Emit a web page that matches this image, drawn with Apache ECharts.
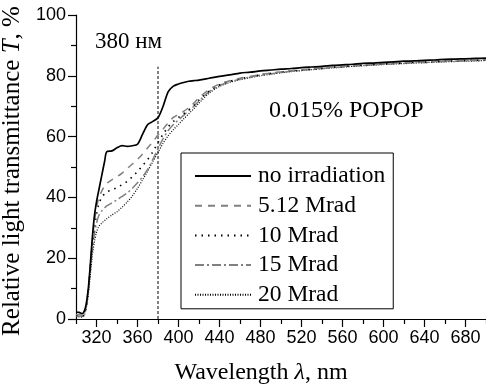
<!DOCTYPE html>
<html>
<head>
<meta charset="utf-8">
<script src="https://cdn.jsdelivr.net/npm/echarts@6/dist/echarts.min.js"></script>
<style>html,body{margin:0;padding:0;background:#fff}#c{width:486px;height:385px}</style>
</head>
<body>
<div id="c"></div>
<script>
const wavelengths = [300,303,306,308,310,312,314,316,318,320,322,325,328,330,335,340,345,350,355,360,365,370,375,380,385,390,395,400,405,410,415,420,430,440,450,460,470,480,490,500,510,520,530,540,550,560,570,580,590,600,610,620,630,640,650,660,670,680,690,700];
const seriesNames = ['no irradiation','5.12 Mrad','10 Mrad','15 Mrad','20 Mrad'];
const noIrradiation = [2.3,2.2,1.8,2.5,5,10,18,27,34,38.5,42,47,52,55,55.3,56.3,57,56.8,57,57.5,60.8,64,65,66.2,70,74.8,76.6,77.3,77.8,78.2,78.4,78.6,79.2,79.8,80.3,80.9,81.2,81.6,81.9,82.2,82.4,82.7,82.9,83.1,83.4,83.6,83.8,84.1,84.2,84.4,84.6,84.8,84.9,85.1,85.2,85.4,85.5,85.6,85.7,85.8];
const mrad512 = [1.5,1.4,1.2,1.8,4.5,10,18,26,32,36.5,39.5,42,43.8,44.6,45.8,46.8,48,49.5,51,52.5,54.3,56.3,58.3,60.5,62.5,64.5,66.3,67.3,68.3,69.5,71,72.8,75.5,77.3,78.4,79.2,79.8,80.4,80.9,81.3,81.7,82.0,82.3,82.6,82.9,83.1,83.4,83.6,83.8,84.0,84.2,84.3,84.5,84.6,84.8,84.9,85.0,85.1,85.2,85.3];
const mrad10 = [1.2,1.1,1.0,1.6,4.2,9.5,17,25,30.5,34.5,37.5,40,41.2,41.8,42.5,43.2,44.2,45.3,46.8,48.5,50.5,52.5,55,58,60.8,63.2,65,66.3,67.5,68.8,70.3,72,75,77,78.2,79.0,79.7,80.3,80.8,81.2,81.6,81.9,82.2,82.5,82.8,83.0,83.3,83.5,83.7,83.9,84.1,84.2,84.4,84.5,84.7,84.8,84.9,85.0,85.1,85.2];
const mrad15 = [1.0,0.9,0.8,1.4,4,9,16,23,28,31.5,33.8,35.5,36.6,37.2,38.2,39.2,40.3,41.5,43,44.8,46.8,49.3,52.5,56,59.3,62,64,65.5,67,68.5,70,71.7,74.8,76.8,78,78.9,79.6,80.2,80.7,81.1,81.5,81.8,82.1,82.4,82.7,82.9,83.2,83.4,83.6,83.8,84.0,84.1,84.3,84.4,84.6,84.7,84.8,84.9,85.0,85.1];
const mrad20 = [0.8,0.7,0.6,1.2,3.5,8,14.5,21,25.5,28.5,30.3,31.5,32.4,33,34.2,35.3,36.8,38.5,40.5,43,45.8,48.7,51.8,54.8,57.8,60.3,62.3,64,65.8,67.5,69.2,71,74.3,76.5,77.8,78.7,79.4,80.0,80.5,81.0,81.4,81.7,82.0,82.3,82.6,82.8,83.1,83.3,83.5,83.7,83.9,84.0,84.2,84.3,84.5,84.6,84.7,84.8,84.9,85.0];
const markerX = [380,380];
const markerY = [0,83];
const xMajorTicks = [320,360,400,440,480,520,560,600,640,680];
const xMinorTicks = [300,340,380,420,460,500,540,580,620,660,700];

const zip = (xs, ys) => xs.map((x, i) => [x, ys[i]]);
const values = [noIrradiation, mrad512, mrad10, mrad15, mrad20];
const styles = [
  {color:'#000', width:1.7, type:'solid'},
  {color:'#808080', width:1.5, type:[7,6]},
  {color:'#000', width:1.6, type:[1.5,5]},
  {color:'#808080', width:1.5, type:[9,3,2,3]},
  {color:'#000', width:1.2, type:[1,1.5]}
];
const serif = 'Liberation Serif';
const sans = 'Liberation Sans';

const series = seriesNames.map((n, i) => ({
  name: n, type: 'line', symbol: 'none', smooth: 0.3,
  data: zip(wavelengths, values[i]),
  lineStyle: styles[i], itemStyle: {color: styles[i].color},
  z: 10 - i, silent: true
}));
series.push({
  name: 'marker', type: 'line', symbol: 'none', data: zip(markerX, markerY),
  lineStyle: {color:'#000', width:1, type:[3,2]}, silent: true, z: 1
});

const chart = echarts.init(document.getElementById('c'), null, {renderer:'canvas'});
chart.setOption({
  animation: false,
  backgroundColor: '#fff',
  grid: {left: 76, right: 0, top: 15, bottom: 66, outerBoundsMode: 'none', containLabel: false},
  xAxis: [{
    type: 'value', min: 300, max: 700,
    axisLine: {show: true, lineStyle: {color:'#000', width:1.2}},
    axisTick: {show: true, length: 8, lineStyle: {color:'#000', width:1.2}, customValues: xMajorTicks},
    axisLabel: {customValues: xMajorTicks, color:'#000', fontFamily: sans, fontSize: 18, margin: 10},
    splitLine: {show: false},
    name: 'Wavelength {i|λ}, nm', nameLocation: 'middle', nameGap: 42,
    nameTextStyle: {color:'#000', fontFamily: serif, fontSize: 24, padding: [0, 40, 0, 0],
      rich: {i: {fontFamily: serif, fontSize: 24, fontStyle: 'italic', color:'#000'}}}
  }, {
    type: 'value', min: 300, max: 700, position: 'bottom',
    axisLine: {show: false},
    axisTick: {show: true, length: 5, lineStyle: {color:'#000', width:1.2}, customValues: xMinorTicks},
    axisLabel: {show: false}, splitLine: {show: false}
  }],
  yAxis: {
    type: 'value', min: 0, max: 100, interval: 20,
    axisLine: {show: true, lineStyle: {color:'#000', width:1.2}},
    axisTick: {show: true, length: 8, lineStyle: {color:'#000', width:1.2}},
    minorTick: {show: true, splitNumber: 2, length: 5, lineStyle: {color:'#000', width:1.2}},
    axisLabel: {color:'#000', fontFamily: sans, fontSize: 18, margin: 10},
    splitLine: {show: false},
    name: 'Relative light transmittance {i|T}, %', nameLocation: 'middle', nameGap: 44,
    nameTextStyle: {color:'#000', fontFamily: serif, fontSize: 25, padding: [0, 8, 0, 0],
      rich: {i: {fontFamily: serif, fontSize: 25, fontStyle: 'italic', color:'#000'}}}
  },
  legend: {
    data: seriesNames, orient: 'vertical', left: 181, top: 153,
    itemWidth: 56, itemHeight: 24, itemGap: 5.7,
    padding: [11, 8, 2, 13],
    borderColor: '#000', borderWidth: 1, backgroundColor: '#fff',
    itemStyle: {opacity: 0},
    textStyle: {color:'#000', fontFamily: serif, fontSize: 23.5, lineHeight: 24, padding: [0,0,0,2]},
    selectedMode: false
  },
  graphic: [
    {type:'text', left: 95, top: 30, style: {text: '380 нм', font: '23px "Liberation Serif"', fill: '#000'}},
    {type:'text', left: 269, top: 99, style: {text: '0.015% POPOP', font: '24px "Liberation Serif"', fill: '#000'}}
  ],
  series: series
});
</script>
</body>
</html>
